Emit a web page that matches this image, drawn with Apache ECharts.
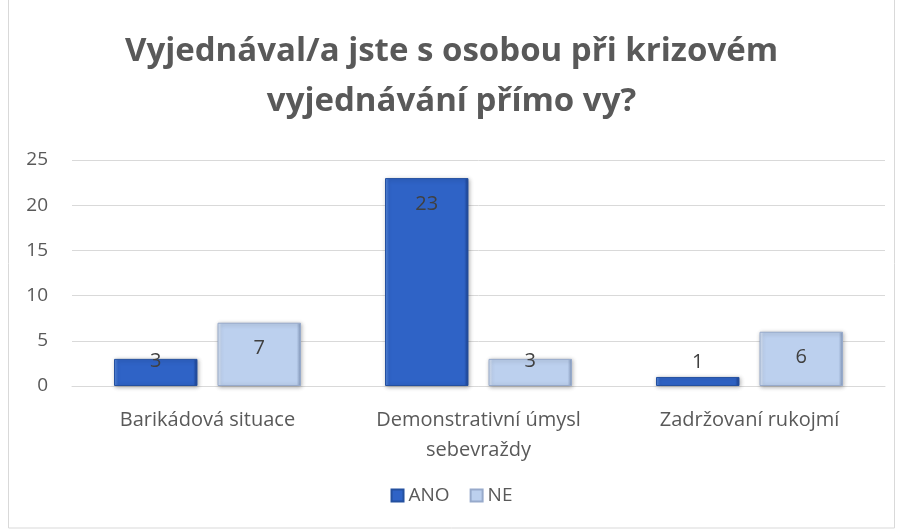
<!DOCTYPE html>
<html>
<head>
<meta charset="utf-8">
<script src="https://cdn.jsdelivr.net/npm/echarts@6/dist/echarts.min.js"></script>
<style>
  html, body { margin: 0; padding: 0; background: #fff; }
  #chart { width: 903px; height: 530px; }
</style>
</head>
<body>
<div id="chart"></div>
<script>
var categories = ['Barikádová situace', 'Demonstrativní úmysl\nsebevraždy', 'Zadržovaní rukojmí'];
var anoValues = [3, 23, 1];
var neValues = [7, 3, 6];
var yTicks = [0, 5, 10, 15, 20, 25];

var font = '"Open Sans", "Noto Sans", sans-serif';

var chart = echarts.init(document.getElementById('chart'));

function bevel(dark, mid, light) {
    return new echarts.graphic.LinearGradient(0, 0, 1, 0, [
        {offset: 0, color: light},
        {offset: 0.05, color: mid},
        {offset: 0.95, color: mid},
        {offset: 1, color: dark}
    ]);
}

// Excel-like "inside end" labels; short bars get the label pushed over the top
function withLabels(values) {
    return values.map(function (v) {
        var lbl;
        if (v >= 5) {
            lbl = {position: 'insideTop', distance: 16};
        } else if (v >= 3) {
            lbl = {position: 'top', distance: -12};
        } else {
            lbl = {position: 'top', distance: 5};
        }
        return {value: v, label: lbl};
    });
}

var labelStyle = {
    show: true,
    fontFamily: font,
    fontSize: 20,
    color: '#404040'
};

var option = {
    backgroundColor: '#ffffff',
    title: {
        text: 'Vyjednával/a jste s osobou při krizovém\nvyjednávání přímo vy?',
        left: 'center',
        top: 22,
        textStyle: {
            fontFamily: font,
            fontSize: 33,
            fontWeight: 'bold',
            color: '#595959',
            lineHeight: 50
        }
    },
    legend: {
        bottom: 20,
        left: 'center',
        itemWidth: 12,
        itemHeight: 12,
        itemGap: 20,
        icon: 'rect',
        textStyle: {fontFamily: font, fontSize: 19, color: '#595959'},
        data: ['ANO', 'NE']
    },
    grid: {
        left: 72,
        right: 18,
        top: 160,
        bottom: 144,
        containLabel: false
    },
    xAxis: {
        type: 'category',
        data: categories,
        axisLine: {lineStyle: {color: '#d9d9d9', width: 1}},
        axisTick: {show: false},
        axisLabel: {
            fontFamily: font,
            fontSize: 20,
            color: '#595959',
            margin: 19,
            lineHeight: 30
        }
    },
    yAxis: {
        type: 'value',
        min: yTicks[0],
        max: yTicks[yTicks.length - 1],
        interval: 5,
        axisLine: {show: false},
        axisTick: {show: false},
        axisLabel: {
            fontFamily: font,
            fontSize: 19,
            color: '#595959',
            margin: 24
        },
        splitLine: {lineStyle: {color: '#d9d9d9', width: 1}}
    },
    series: [
        {
            name: 'ANO',
            type: 'bar',
            data: withLabels(anoValues),
            barGap: '24%',
            barCategoryGap: '31%',
            itemStyle: {
                color: bevel('#1a3f8c', '#2f63c6', '#5c8ee0'),
                borderColor: '#24509f',
                borderWidth: 1,
                shadowColor: 'rgba(0,0,0,0.3)',
                shadowBlur: 4,
                shadowOffsetX: 1,
                shadowOffsetY: 1
            },
            label: labelStyle
        },
        {
            name: 'NE',
            type: 'bar',
            data: withLabels(neValues),
            itemStyle: {
                color: bevel('#8197bb', '#bcd0ee', '#e3ecf9'),
                borderColor: '#97aacb',
                borderWidth: 1,
                shadowColor: 'rgba(0,0,0,0.3)',
                shadowBlur: 4,
                shadowOffsetX: 1,
                shadowOffsetY: 1
            },
            label: labelStyle
        }
    ],
    graphic: [
        {
            type: 'rect',
            shape: {x: 8.5, y: -2, width: 886, height: 530},
            style: {fill: 'none', stroke: '#d9d9d9', lineWidth: 1},
            silent: true
        }
    ]
};

chart.setOption(option);
</script>
</body>
</html>
